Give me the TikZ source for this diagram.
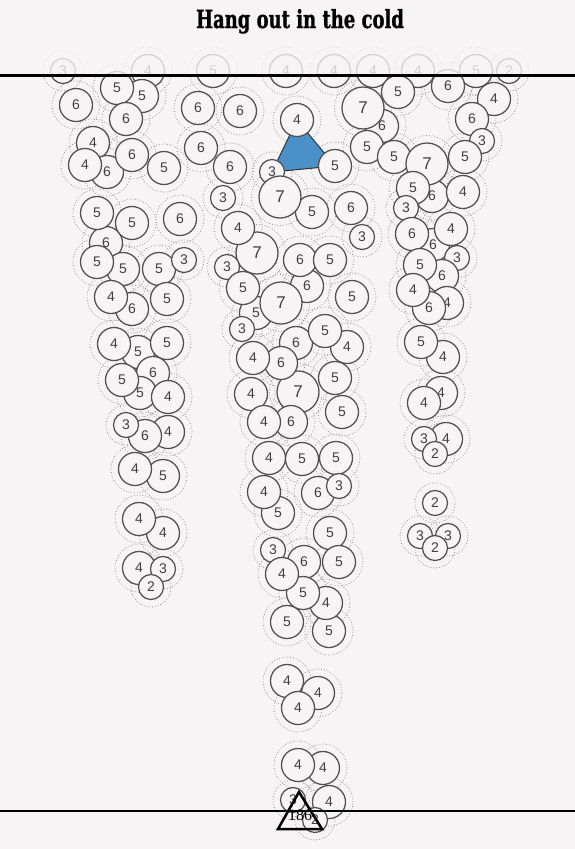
\documentclass[tikz,border=0pt]{standalone}
\usepackage{fontspec}
\setmainfont{Liberation Sans}
\newfontfamily\headfont{DejaVu Serif Condensed}[BoldFeatures={FakeBold=1.2}]
\newfontfamily\countfont{Liberation Serif}

\definecolor{paper}{RGB}{246,244,245}
\definecolor{ink}{RGB}{80,80,80}
\definecolor{dots}{RGB}{150,150,150}
\definecolor{warm}{RGB}{74,144,201}

% x / y / days
\def\bubbles{297/120/4, 272/172/3, 335/166/5,
63/71/3, 148/71/4, 213/71/5, 286/71/4, 334/71/4, 373/71/4, 418/71/4, 476/71/5, 509/71/2,
142/96/5, 117/88/5, 76/105/6, 126/119/6, 93/143/4, 107/172/6, 132/155/6, 85/165/4, 164/168/5,
198/108/6, 240/111/6, 201/148/6, 230/167/6, 223/198/3,
106/243/6, 97/213/5, 132/223/5, 180/219/6, 123/269/5, 97/262/5, 159/269/5, 184/260/3,
132/309/6, 111/297/4, 167/299/5, 138/352/5, 114/344/4, 167/343/5, 153/373/6, 140/393/5,
122/380/5, 168/397/4, 168/432/4, 145/436/6, 126/425/3, 163/476/5, 135/469/4,
163/533/4, 139/519/4, 139/568/4, 163/569/3, 151/587/2,
312/212/5, 280/197/7, 351/208/6, 362/237/3, 257/253/7, 238/228/4, 227/267/3,
307/286/6, 300/260/6, 330/260/5, 256/313/5, 281/303/7, 243/288/5, 242/329/3, 352/297/5,
296/343/6, 347/347/4, 325/331/5, 298/392/7, 281/363/6, 253/358/4, 251/394/4, 335/378/5,
342/412/5, 291/422/6, 264/422/4, 269/458/4, 302/459/5, 336/458/5,
278/513/5, 264/492/4, 318/493/6, 339/486/3, 330/533/5, 339/562/5,
304/562/6, 273/550/3, 329/631/5, 326/603/4, 303/593/5, 282/574/4, 287/622/5,
287/681/4, 318/693/4, 298/708/4, 323/768/4, 298/765/4, 329/802/4, 293/800/3, 315/820/2,
382/126/6, 363/108/7, 398/92/5, 448/86/6, 494/99/4, 472/119/6, 482/141/3,
367/147/5, 394/157/5, 465/157/5, 432/196/6, 427/164/7, 413/188/5, 463/192/4, 406/208/3,
433/245/6, 412/234/6, 451/229/4, 457/258/3, 442/276/6, 420/265/5,
447/303/4, 429/308/6, 413/290/4, 443/357/4, 421/342/5, 441/393/4, 424/403/4,
446/439/4, 424/439/3, 435/454/2, 435/503/2, 420/536/3, 448/536/3, 435/548/2}

\begin{document}
\begin{tikzpicture}[x=1pt,y=-1pt,
  ring/.style={circle,draw=dots,dotted,line width=0.8pt,inner sep=0pt},
  ring2/.style={ring,minimum size=40pt},
  ring3/.style={ring,minimum size=40pt},
  ring4/.style={ring,minimum size=48pt},
  ring5/.style={ring,minimum size=48pt},
  ring6/.style={ring,minimum size=48pt},
  ring7/.style={ring,minimum size=57pt},
  bub/.style={circle,draw=ink,fill=paper,line width=1.25pt,inner sep=0pt,
    text=black!75,font=\fontsize{14}{14}\selectfont},
  bub2/.style={bub,minimum size=25pt},
  bub3/.style={bub,minimum size=25pt},
  bub4/.style={bub,minimum size=33pt},
  bub5/.style={bub,minimum size=33pt},
  bub6/.style={bub,minimum size=33pt},
  bub7/.style={bub,minimum size=42pt,font=\fontsize{17}{17}\selectfont}]

\fill[paper] (0,0) rectangle (575,849);
\useasboundingbox (0,0) rectangle (575,849);

\foreach \x/\y/\n [count=\i] in \bubbles
{
  \node[ring\n] (R\i) at (\x,\y) {};
}

\filldraw[fill=warm,draw=black!80,line width=1pt] (R1.center) -- (R2.center) -- (R3.center) -- cycle;

\foreach \x/\y/\n [count=\i] in \bubbles
{
  \node[bub\n] (B\i) at (\x,\y) {\n};
}

\fill[paper,opacity=0.8] (0,0) rectangle (575,75);

\coordinate (TL) at (0,75);
\coordinate (TR) at (575,75);
\coordinate (BL) at (0,811);
\coordinate (BR) at (575,811);
\draw[line width=3pt] (TL) -- (TR);
\draw[line width=2.5pt] (BL) -- (BR);

\node[anchor=base,font=\headfont\bfseries\fontsize{25}{25}\selectfont] (title) at (300,28) {\scalebox{0.8}[1]{Hang out in the cold}};

\coordinate (T1) at (299,792);
\coordinate (T2) at (278,829);
\coordinate (T3) at (322,829);
\draw[line width=2.5pt,line join=miter] (T1) -- (T2) -- (T3) -- cycle;
\node[font=\countfont\fontsize{16}{16}\selectfont] (count) at (300,815) {186};

\end{tikzpicture}
\end{document}
